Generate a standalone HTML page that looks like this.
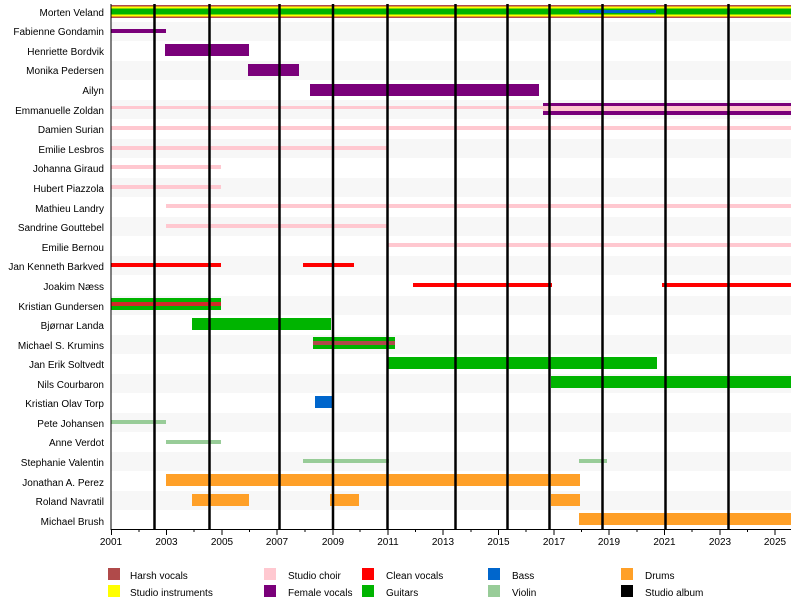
<!DOCTYPE html>
<html><head><meta charset="utf-8"><style>
html,body{margin:0;padding:0;background:#fff;}
svg{display:block;font-family:"Liberation Sans",Arial,sans-serif;}
</style></head><body>
<svg width="800" height="605" viewBox="0 0 800 605" xmlns="http://www.w3.org/2000/svg">
<g fill="#f7f7f7">
<rect x="111" y="22" width="680" height="19"/>
<rect x="111" y="61" width="680" height="19"/>
<rect x="111" y="100" width="680" height="19"/>
<rect x="111" y="139" width="680" height="19"/>
<rect x="111" y="178" width="680" height="19"/>
<rect x="111" y="217" width="680" height="19"/>
<rect x="111" y="256" width="680" height="19"/>
<rect x="111" y="296" width="680" height="19"/>
<rect x="111" y="335" width="680" height="19"/>
<rect x="111" y="374" width="680" height="19"/>
<rect x="111" y="413" width="680" height="19"/>
<rect x="111" y="452" width="680" height="19"/>
<rect x="111" y="491" width="680" height="19"/>
</g>
<g font-size="10" fill="#000" text-anchor="end">
<text x="104" y="16">Morten Veland</text>
<text x="104" y="35">Fabienne Gondamin</text>
<text x="104" y="55">Henriette Bordvik</text>
<text x="104" y="74">Monika Pedersen</text>
<text x="104" y="94">Ailyn</text>
<text x="104" y="114">Emmanuelle Zoldan</text>
<text x="104" y="133">Damien Surian</text>
<text x="104" y="153">Emilie Lesbros</text>
<text x="104" y="172">Johanna Giraud</text>
<text x="104" y="192">Hubert Piazzola</text>
<text x="104" y="212">Mathieu Landry</text>
<text x="104" y="231">Sandrine Gouttebel</text>
<text x="104" y="251">Emilie Bernou</text>
<text x="104" y="270">Jan Kenneth Barkved</text>
<text x="104" y="290">Joakim Næss</text>
<text x="104" y="310">Kristian Gundersen</text>
<text x="104" y="329">Bjørnar Landa</text>
<text x="104" y="349">Michael S. Krumins</text>
<text x="104" y="368">Jan Erik Soltvedt</text>
<text x="104" y="388">Nils Courbaron</text>
<text x="104" y="407">Kristian Olav Torp</text>
<text x="104" y="427">Pete Johansen</text>
<text x="104" y="446">Anne Verdot</text>
<text x="104" y="466">Stephanie Valentin</text>
<text x="104" y="486">Jonathan A. Perez</text>
<text x="104" y="505">Roland Navratil</text>
<text x="104" y="525">Michael Brush</text>
</g>
<rect x="111" y="5" width="680" height="13" fill="#b04a4a"/>
<rect x="111" y="6.5" width="680" height="10" fill="#ffff00"/>
<rect x="111" y="8.5" width="680" height="6" fill="#00b400"/>
<rect x="579" y="10" width="77" height="3" fill="#0066cc"/>
<g fill="#7a007a">
<rect x="111" y="29" width="55" height="4"/>
<rect x="165" y="44" width="84" height="12"/>
<rect x="248" y="64" width="51" height="12"/>
<rect x="310" y="84" width="229" height="12"/>
<rect x="543" y="103" width="248" height="12"/>
</g>
<g fill="#ffc8d0">
<rect x="111" y="106" width="680" height="3"/>
<rect x="543" y="106" width="248" height="5"/>
<rect x="111" y="126" width="680" height="4"/>
<rect x="111" y="146" width="276" height="4"/>
<rect x="111" y="165" width="110" height="4"/>
<rect x="111" y="185" width="110" height="4"/>
<rect x="166" y="204" width="625" height="4"/>
<rect x="166" y="224" width="221" height="4"/>
<rect x="387" y="243" width="404" height="4"/>
</g>
<g fill="#ff0000">
<rect x="111" y="263" width="110" height="4"/>
<rect x="303" y="263" width="51" height="4"/>
<rect x="413" y="283" width="139" height="4"/>
<rect x="662" y="283" width="129" height="4"/>
</g>
<g fill="#00b400">
<rect x="111" y="298" width="110" height="12"/>
<rect x="192" y="318" width="139" height="12"/>
<rect x="313" y="337" width="82" height="12"/>
<rect x="387" y="357" width="270" height="12"/>
<rect x="551" y="376" width="240" height="12"/>
</g>
<rect x="111" y="302" width="110" height="4" fill="#d02a2a"/>
<rect x="313" y="341" width="82" height="4" fill="#b04a4a"/>
<rect x="315" y="396" width="17" height="12" fill="#0066cc"/>
<g fill="#98cc98">
<rect x="111" y="420" width="55" height="4"/>
<rect x="166" y="440" width="55" height="4"/>
<rect x="303" y="459" width="86" height="4"/>
<rect x="579" y="459" width="28" height="4"/>
</g>
<g fill="#ffa028">
<rect x="166" y="474" width="414" height="12"/>
<rect x="192" y="494" width="57" height="12"/>
<rect x="330" y="494" width="29" height="12"/>
<rect x="551" y="494" width="29" height="12"/>
<rect x="579" y="513" width="212" height="12"/>
</g>
<g stroke="#000" stroke-width="2.5">
<line x1="154.5" y1="4" x2="154.5" y2="529"/>
<line x1="209.5" y1="4" x2="209.5" y2="529"/>
<line x1="279.5" y1="4" x2="279.5" y2="529"/>
<line x1="333" y1="4" x2="333" y2="529"/>
<line x1="387.5" y1="4" x2="387.5" y2="529"/>
<line x1="455.5" y1="4" x2="455.5" y2="529"/>
<line x1="507.5" y1="4" x2="507.5" y2="529"/>
<line x1="549.5" y1="4" x2="549.5" y2="529"/>
<line x1="602.5" y1="4" x2="602.5" y2="529"/>
<line x1="665.5" y1="4" x2="665.5" y2="529"/>
<line x1="728.5" y1="4" x2="728.5" y2="529"/>
</g>
<g stroke="#000" stroke-width="1">
<line x1="111" y1="4" x2="111" y2="530"/>
<line x1="111" y1="529.5" x2="791" y2="529.5"/>
</g>
<g stroke="#000" stroke-width="1">
<line x1="111.5" y1="529" x2="111.5" y2="535"/><line x1="139" y1="529" x2="139" y2="532"/>
<line x1="166.5" y1="529" x2="166.5" y2="535"/><line x1="194" y1="529" x2="194" y2="532"/>
<line x1="222" y1="529" x2="222" y2="535"/><line x1="249.5" y1="529" x2="249.5" y2="532"/>
<line x1="277" y1="529" x2="277" y2="535"/><line x1="305" y1="529" x2="305" y2="532"/>
<line x1="333" y1="529" x2="333" y2="535"/><line x1="360" y1="529" x2="360" y2="532"/>
<line x1="388" y1="529" x2="388" y2="535"/><line x1="415.5" y1="529" x2="415.5" y2="532"/>
<line x1="443" y1="529" x2="443" y2="535"/><line x1="471" y1="529" x2="471" y2="532"/>
<line x1="498.5" y1="529" x2="498.5" y2="535"/><line x1="526" y1="529" x2="526" y2="532"/>
<line x1="554" y1="529" x2="554" y2="535"/><line x1="581.5" y1="529" x2="581.5" y2="532"/>
<line x1="609" y1="529" x2="609" y2="535"/><line x1="637" y1="529" x2="637" y2="532"/>
<line x1="664.5" y1="529" x2="664.5" y2="535"/><line x1="692" y1="529" x2="692" y2="532"/>
<line x1="720" y1="529" x2="720" y2="535"/><line x1="747.5" y1="529" x2="747.5" y2="532"/>
<line x1="775" y1="529" x2="775" y2="535"/>
</g>
<g font-size="10" text-anchor="middle" fill="#000">
<text x="111" y="545">2001</text><text x="166.5" y="545">2003</text><text x="222" y="545">2005</text>
<text x="277" y="545">2007</text><text x="333" y="545">2009</text><text x="388" y="545">2011</text>
<text x="443" y="545">2013</text><text x="498.5" y="545">2015</text><text x="554" y="545">2017</text>
<text x="609" y="545">2019</text><text x="664.5" y="545">2021</text><text x="720" y="545">2023</text>
<text x="775" y="545">2025</text>
</g>
<rect x="108" y="568" width="12" height="12" fill="#b04a4a"/>
<rect x="108" y="585" width="12" height="12" fill="#ffff00"/>
<rect x="264" y="568" width="12" height="12" fill="#ffc8d0"/>
<rect x="264" y="585" width="12" height="12" fill="#7a007a"/>
<rect x="362" y="568" width="12" height="12" fill="#ff0000"/>
<rect x="362" y="585" width="12" height="12" fill="#00b400"/>
<rect x="488" y="568" width="12" height="12" fill="#0066cc"/>
<rect x="488" y="585" width="12" height="12" fill="#98cc98"/>
<rect x="621" y="568" width="12" height="12" fill="#ffa028"/>
<rect x="621" y="585" width="12" height="12" fill="#000"/>
<g font-size="10" fill="#000">
<text x="130" y="579">Harsh vocals</text><text x="130" y="596">Studio instruments</text>
<text x="288" y="579">Studio choir</text><text x="288" y="596">Female vocals</text>
<text x="386" y="579">Clean vocals</text><text x="386" y="596">Guitars</text>
<text x="512" y="579">Bass</text><text x="512" y="596">Violin</text>
<text x="645" y="579">Drums</text><text x="645" y="596">Studio album</text>
</g>
</svg>
</body></html>
